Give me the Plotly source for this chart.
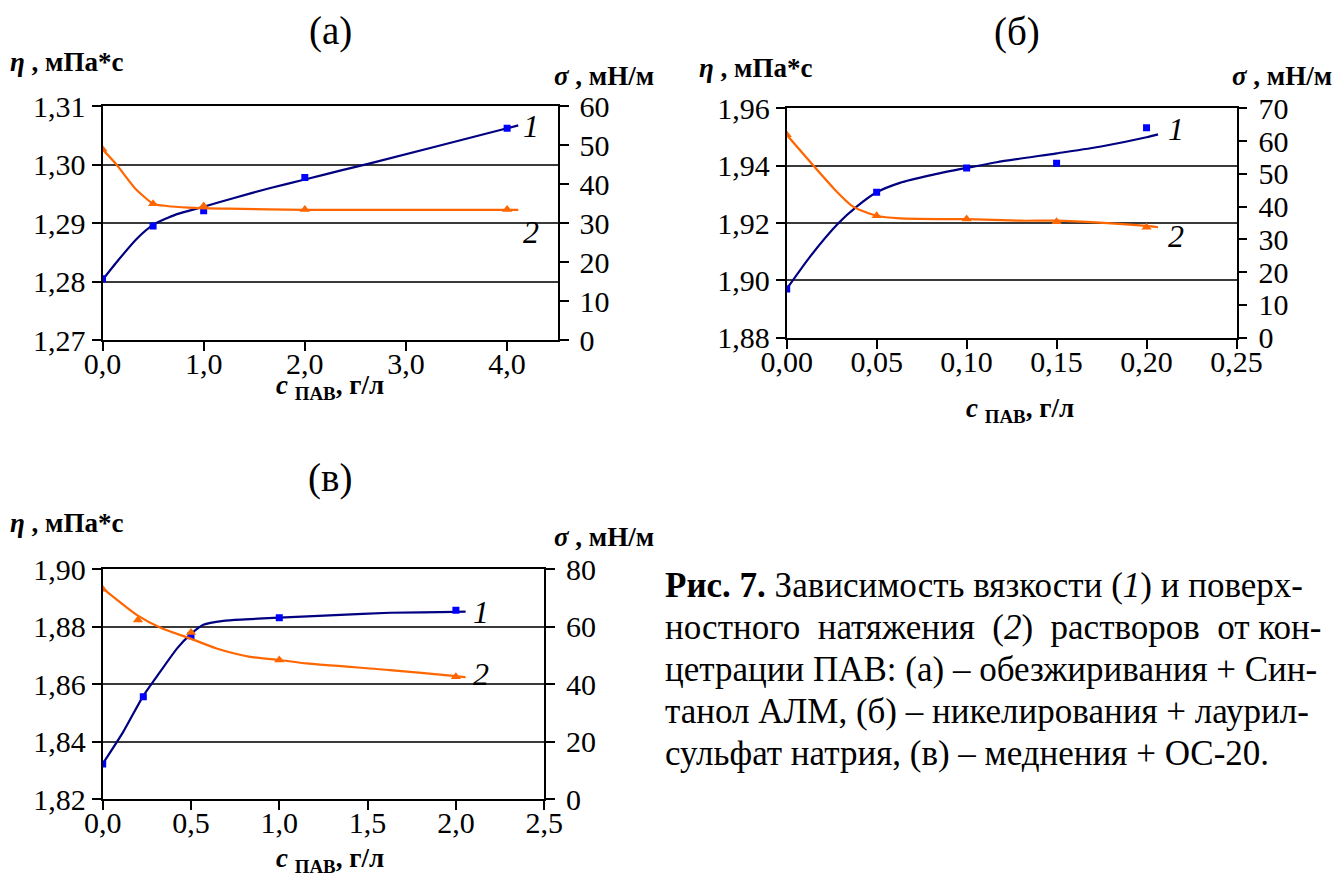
import plotly.graph_objects as go

W, H = 1338, 888
FONT = "Liberation Serif, 'Times New Roman', Times, 'DejaVu Serif', serif"

# ---------------- data ----------------
# (а) обезжиривание + Синтанол АЛМ
a_x = [0, 0.5, 1, 2, 4]
a_eta = [1.2805, 1.2895, 1.2921, 1.2978, 1.3062]
a_sigma = [48.9, 35.0, 34.4, 33.5, 33.5]
a_eta_line_x = [0, 0.157, 0.337, 0.5, 0.729, 1.0, 1.301, 1.66, 1.99, 2.379, 2.645, 4.0, 4.11]
a_eta_line_y = [1.2803, 1.2837, 1.2873, 1.2897, 1.2915, 1.2928, 1.2943, 1.2960, 1.2974, 1.2991, 1.3002, 1.3062, 1.3067]
a_sig_line_x = [0, 0.142, 0.323, 0.5, 0.636, 0.85, 1.246, 1.99, 4.11]
a_sig_line_y = [48.9, 44.9, 38.9, 35.0, 34.4, 34.0, 33.7, 33.4, 33.4]
a_xticks = [0, 1, 2, 3, 4]
a_xtext = ["0,0", "1,0", "2,0", "3,0", "4,0"]
a_yticks = [1.27, 1.28, 1.29, 1.30, 1.31]
a_ytext = ["1,27", "1,28", "1,29", "1,30", "1,31"]
a_y2ticks = [0, 10, 20, 30, 40, 50, 60]

# (б) никелирование + лаурилсульфат натрия
b_x = [0, 0.05, 0.10, 0.15, 0.20]
b_eta = [1.8970, 1.9307, 1.9392, 1.9408, 1.9532]
b_sigma = [61.9, 37.2, 36.2, 35.4, 33.7]
b_eta_line_x = [0, 0.0129, 0.0287, 0.0389, 0.05, 0.0629, 0.0796, 0.10, 0.1167, 0.15, 0.174, 0.20, 0.2064]
b_eta_line_y = [1.8970, 1.9082, 1.9199, 1.9257, 1.9307, 1.9340, 1.9366, 1.9392, 1.9412, 1.9443, 1.9466, 1.9499, 1.9509]
b_sig_line_x = [0, 0.0269, 0.0369, 0.05, 0.0629, 0.0852, 0.10, 0.1296, 0.15, 0.174, 0.20, 0.2064]
b_sig_line_y = [61.9, 45.1, 40.0, 37.2, 36.4, 36.2, 36.2, 35.7, 35.7, 35.1, 34.1, 33.7]
b_xticks = [0, 0.05, 0.10, 0.15, 0.20, 0.25]
b_xtext = ["0,00", "0,05", "0,10", "0,15", "0,20", "0,25"]
b_yticks = [1.88, 1.90, 1.92, 1.94, 1.96]
b_ytext = ["1,88", "1,90", "1,92", "1,94", "1,96"]
b_y2ticks = [0, 10, 20, 30, 40, 50, 60, 70]

# (в) меднение + ОС-20
c_x_eta = [0, 0.23, 0.5, 1.0, 2.0]
c_eta = [1.8323, 1.8556, 1.8768, 1.8831, 1.8857]
c_x_sig = [0, 0.2, 0.5, 1.0, 2.0]
c_sigma = [73.0, 62.3, 57.9, 48.4, 42.6]
c_eta_line_x = [0, 0.117, 0.2265, 0.306, 0.4226, 0.494, 0.570, 0.683, 0.806, 1.0, 1.315, 1.627, 2.0, 2.055]
c_eta_line_y = [1.8323, 1.8435, 1.8556, 1.8626, 1.8725, 1.8771, 1.8806, 1.8820, 1.8825, 1.8831, 1.8840, 1.8848, 1.8851, 1.8852]
c_sig_line_x = [0, 0.2015, 0.334, 0.494, 0.645, 0.834, 1.0, 1.155, 1.627, 2.0, 2.055]
c_sig_line_y = [73.3, 63.7, 59.4, 55.9, 52.4, 49.5, 48.4, 47.2, 44.9, 42.8, 42.4]
c_xticks = [0, 0.5, 1.0, 1.5, 2.0, 2.5]
c_xtext = ["0,0", "0,5", "1,0", "1,5", "2,0", "2,5"]
c_yticks = [1.82, 1.84, 1.86, 1.88, 1.90]
c_ytext = ["1,82", "1,84", "1,86", "1,88", "1,90"]
c_y2ticks = [0, 20, 40, 60, 80]

NB = "\u00a0"
caption_lines = [
    "<b>Рис. 7.</b> Зависимость вязкости (<i>1</i>) и поверх-",
    "ностного " + NB + "натяжения " + NB + "(<i>2</i>) " + NB + "растворов " + NB + "от кон-",
    "цетрации ПАВ: (а) – обезжиривания + Син-",
    "танол АЛМ, (б) – никелирования + лаурил-",
    "сульфат натрия, (в) – меднения + ОС-20.",
]

BLUE_LINE = "#000080"
BLUE_MK = "#0000FF"
ORANGE = "#FF6600"
GRID = "#3a3a3a"


def px(x):
    return x / W


def py(y):
    return 1 - y / H


fig = go.Figure()

panels = [
    dict(xa="x", ya="y", yb="y2", yc="y3", dx=(102.5, 557.7), dy=(106, 340.3),
         xr=[0, 4.5], yr=[1.27, 1.31], y2r=[0, 60],
         xt=a_xticks, xtt=a_xtext, yt=a_yticks, ytt=a_ytext, y2t=a_y2ticks,
         mx_e=a_x, me=a_eta, mx_s=a_x, ms=a_sigma,
         le=(a_eta_line_x, a_eta_line_y), ls=(a_sig_line_x, a_sig_line_y)),
    dict(xa="x2", ya="y4", yb="y5", yc="y6", dx=(786.7, 1236.5), dy=(108.3, 337.7),
         xr=[0, 0.25], yr=[1.88, 1.96], y2r=[0, 70],
         xt=b_xticks, xtt=b_xtext, yt=b_yticks, ytt=b_ytext, y2t=b_y2ticks,
         mx_e=b_x, me=b_eta, mx_s=b_x, ms=b_sigma,
         le=(b_eta_line_x, b_eta_line_y), ls=(b_sig_line_x, b_sig_line_y)),
    dict(xa="x3", ya="y7", yb="y8", yc="y9", dx=(102.7, 544.2), dy=(569, 799.3),
         xr=[0, 2.5], yr=[1.82, 1.90], y2r=[0, 80],
         xt=c_xticks, xtt=c_xtext, yt=c_yticks, ytt=c_ytext, y2t=c_y2ticks,
         mx_e=c_x_eta, me=c_eta, mx_s=c_x_sig, ms=c_sigma,
         le=(c_eta_line_x, c_eta_line_y), ls=(c_sig_line_x, c_sig_line_y)),
]

tickfont = dict(family=FONT, size=30, color="black")
layout = dict(
    width=W, height=H, autosize=False,
    margin=dict(l=0, r=0, t=0, b=0, pad=0, autoexpand=False),
    paper_bgcolor="white", plot_bgcolor="white",
    showlegend=False,
    font=dict(family=FONT, color="black"),
    template="none",
)


def key(axid):
    return axid[0] + "axis" + axid[1:]


for p in panels:
    xa, ya, yb, yc = p["xa"], p["ya"], p["yb"], p["yc"]
    fig.add_trace(go.Scatter(x=p["le"][0], y=p["le"][1], mode="lines",
                             line=dict(color=BLUE_LINE, width=2.2, shape="spline", smoothing=0.6),
                             xaxis=xa, yaxis=ya, hoverinfo="skip"))
    fig.add_trace(go.Scatter(x=p["ls"][0], y=p["ls"][1], mode="lines",
                             line=dict(color=ORANGE, width=2.2, shape="spline", smoothing=0.6),
                             xaxis=xa, yaxis=yb, hoverinfo="skip"))
    fig.add_trace(go.Scatter(x=p["mx_e"], y=p["me"], mode="markers",
                             marker=dict(symbol="square", size=7, color=BLUE_MK),
                             xaxis=xa, yaxis=ya))
    fig.add_trace(go.Scatter(x=p["mx_s"], y=p["ms"], mode="markers",
                             marker=dict(symbol="triangle-up", size=9, color=ORANGE),
                             xaxis=xa, yaxis=yb))

    layout[key(xa)] = dict(
        domain=[px(p["dx"][0]), px(p["dx"][1])], anchor=ya, range=p["xr"],
        tickvals=p["xt"], ticktext=p["xtt"], ticks="outside", ticklen=9, tickwidth=1.5,
        tickcolor="black", showline=True, linecolor="black", linewidth=1.8, mirror=True,
        showgrid=False, zeroline=False, tickfont=tickfont, fixedrange=True, automargin=False,
        ticklabelstandoff=-13,
    )
    layout[key(ya)] = dict(
        domain=[py(p["dy"][1]), py(p["dy"][0])], anchor=xa, range=p["yr"],
        tickvals=p["yt"], ticktext=p["ytt"], ticks="outside", ticklen=9, tickwidth=1.5,
        tickcolor="black", showline=True, linecolor="black", linewidth=1.8,
        showgrid=True, gridcolor=GRID, gridwidth=1.8, zeroline=False, tickfont=tickfont,
        automargin=False,
    )
    layout[key(yb)] = dict(
        overlaying=ya, side="right", anchor=xa, range=p["y2r"],
        tickvals=p["y2t"], ticks="outside", ticklen=9, tickwidth=1.5, tickcolor="black",
        showline=True, linecolor="black", linewidth=1.8, showgrid=False, zeroline=False,
        tickfont=tickfont, automargin=False, ticklabelstandoff=5,
    )
    layout[key(yc)] = dict(
        overlaying=ya, side="right", anchor=xa, range=p["y2r"],
        tickvals=p["y2t"], ticks="inside", ticklen=9, tickwidth=1.5, tickcolor="black",
        showline=False, showgrid=False, zeroline=False, showticklabels=False,
        automargin=False,
    )

fig.update_layout(**layout)

ann = []


def text(x, y, s, size, xanchor="center", yanchor="middle"):
    ann.append(dict(x=px(x), y=py(y), xref="paper", yref="paper", text=s, showarrow=False,
                    xanchor=xanchor, yanchor=yanchor,
                    font=dict(family=FONT, size=size, color="black")))


text(330, 31, "(а)", 39)
text(1017, 32, "(б)", 39)
text(330, 478, "(в)", 39)

eta_t = "<b><i>η</i> , мПа*с</b>"
sig_t = "<b><i>σ</i> , мН/м</b>"
x_t = "<b><i>c</i> <sub>ПАВ</sub>, г/л</b>"

text(8, 62, eta_t, 27, xanchor="left")
text(656, 76, sig_t, 27, xanchor="right")
text(697, 68, eta_t, 27, xanchor="left")
text(1334, 76, sig_t, 27, xanchor="right")
text(8, 523, eta_t, 27, xanchor="left")
text(656, 537, sig_t, 27, xanchor="right")

text(330, 387, x_t, 27)
text(1020, 410, x_t, 27)
text(330, 860, x_t, 27)

for (x, y, s) in [(531, 126, "1"), (531, 232, "2"), (1176, 129, "1"), (1176, 236, "2"),
                  (481, 612, "1"), (481, 674, "2")]:
    text(x, y, "<i>" + s + "</i>", 32)

for i, line in enumerate(caption_lines):
    text(663, 585 + 42 * i, line, 35, xanchor="left")

fig.update_layout(annotations=ann)
fig.write_html("out.html")
